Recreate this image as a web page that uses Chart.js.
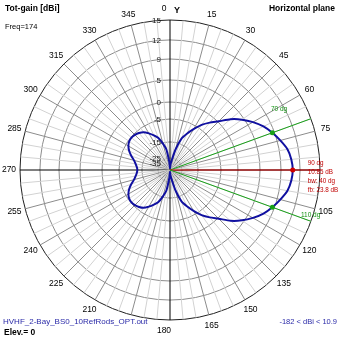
<!DOCTYPE html>
<html>
<head>
<meta charset="utf-8">
<script src="https://cdn.jsdelivr.net/npm/chart.js@4.4.1/dist/chart.umd.min.js"></script>
<style>
  html, body { margin: 0; padding: 0; background: #fff; }
  #wrap { position: relative; width: 339px; height: 339px; font-family: "Liberation Sans", Arial, sans-serif; }
  #wrap div { position: absolute; white-space: nowrap; line-height: 1; }
  .b { font-weight: bold; font-size: 8.5px; color: #000; }
</style>
</head>
<body>
<div id="wrap">
  <canvas id="polar" width="339" height="339"></canvas>
  <div class="b" style="left:5px;top:4px;">Tot-gain [dBi]</div>
  <div class="b" style="right:4px;top:4px;">Horizontal plane</div>
  <div style="left:5px;top:23px;font-size:7.5px;">Freq=174</div>
  <div style="left:3px;top:318px;font-size:8px;color:#2a2aa8;">HVHF_2-Bay_BS0_10RefRods_OPT.out</div>
  <div class="b" style="left:4px;top:328px;">Elev.= 0</div>
  <div style="right:2px;top:318px;font-size:7.5px;color:#2a2aa8;">-182 &lt; dBi &lt; 10.9</div>
</div>
<script>
// azimuth in degrees, 0 = Y axis, clockwise
const azimuths = [
  0, 5, 10, 15, 20, 25, 30, 35, 40, 45, 50, 55, 60, 65, 70, 75, 80, 85,
  90, 95, 100, 105, 110, 115, 120, 125, 130, 135, 140, 145, 150, 155, 160, 165, 170, 175,
  180, 185, 190, 195, 200, 205, 210, 215, 220, 225, 230, 235, 240, 245, 250, 255, 260, 265,
  270, 275, 280, 285, 290, 295, 300, 305, 310, 315, 320, 325, 330, 335, 340, 345, 350, 355
];

// total gain in dBi
const gainDb = [
  -53, -40, -29, -19.4, -12.8, -9.8, -6.7, -3.8, -1.8, 0.2, 2.5, 4.5, 6.1, 7.5, 8.6, 9.5, 10.3, 10.7,
  10.85, 10.7, 10.3, 9.5, 8.6, 7.5, 6.1, 4.5, 2.5, 0.2, -1.8, -3.8, -6.7, -9.8, -12.8, -19.4, -29, -40,
  -53, -33, -19.5, -15.5, -12.4, -10.6, -8.8, -7.1, -6.2, -5.6, -5.3, -5.5, -6.3, -7.6, -9.3, -11.0, -12.0, -12.7,
  -13.0, -12.7, -12.0, -11.0, -9.3, -7.6, -6.3, -5.5, -5.3, -5.6, -6.2, -7.1, -8.8, -10.6, -12.4, -15.5, -19.5, -33
];

// labelled gain rings
const ringDb = [-35, -25, -15, -5, 0, 5, 9, 12, 15];

// azimuth labels (90 and 195 are covered by other text in the original)
const compassLabels = [0, 15, 30, 45, 60, 75, 105, 120, 135, 150, 165, 180, 210, 225, 240, 255, 270, 285, 300, 315, 330, 345];

// beamwidth markers
const markerAngles = [70, 90, 110];
const markerColors = ['#18a018', '#d00000', '#18a018'];
const infoLines = ['90 dg', '10.85 dB', 'bw: 40 dg', 'fb: 23.8 dB'];

// radial scale of the plot: dB -> fraction of the outer radius
const scaleDb   = [-60, -35, -25, -15, -5, 0, 5, 9, 12, 15];
const scaleFrac = [0, 0.047, 0.08, 0.187, 0.34, 0.453, 0.6, 0.74, 0.867, 1];

function dbToR(db) {
  if (db <= scaleDb[0]) return 0;
  for (let i = 1; i < scaleDb.length; i++) {
    if (db <= scaleDb[i]) {
      const t = (db - scaleDb[i - 1]) / (scaleDb[i] - scaleDb[i - 1]);
      return scaleFrac[i - 1] + t * (scaleFrac[i] - scaleFrac[i - 1]);
    }
  }
  return 1;
}

const overlay = {
  id: 'overlay',
  beforeDatasetsDraw(chart) {
    const s = chart.scales.r;
    const ctx = chart.ctx;
    ctx.save();
    ctx.lineWidth = 1;
    markerAngles.forEach((a, k) => {
      const p = s.getPointPosition(azimuths.indexOf(a), s.drawingArea);
      ctx.strokeStyle = markerColors[k];
      ctx.beginPath();
      ctx.moveTo(s.xCenter, s.yCenter);
      ctx.lineTo(p.x, p.y);
      ctx.stroke();
    });
    ctx.restore();
  },
  afterDraw(chart) {
    const s = chart.scales.r;
    const ctx = chart.ctx;
    ctx.save();
    ctx.font = '8px "Liberation Sans", Arial, sans-serif';
    ctx.fillStyle = '#202020';
    ctx.textAlign = 'right';
    ctx.textBaseline = 'middle';
    ringDb.forEach(db => {
      const d = s.getDistanceFromCenterForValue(dbToR(db));
      ctx.fillText(String(db), s.xCenter - 9, s.yCenter - d + 1);
    });

    ctx.font = '8.5px "Liberation Sans", Arial, sans-serif';
    ctx.fillStyle = '#000';
    ctx.textAlign = 'center';
    compassLabels.forEach(a => {
      const p = s.getPointPosition(azimuths.indexOf(a), s.drawingArea + 11);
      let x = p.x;
      if (a === 0 || a === 180) x -= 6;
      ctx.fillText(String(a), x, p.y);
    });
    const top = s.getPointPosition(0, s.drawingArea + 9);
    ctx.font = 'bold 9px "Liberation Sans", Arial, sans-serif';
    ctx.fillText('Y', top.x + 7, top.y);

    // marker annotations
    const pMax = s.getPointPosition(azimuths.indexOf(90), s.getDistanceFromCenterForValue(dbToR(10.85)));
    ctx.font = '6.3px "Liberation Sans", Arial, sans-serif';
    ctx.fillStyle = '#c00000';
    ctx.textAlign = 'left';
    infoLines.forEach((t, i) => {
      ctx.fillText(t, pMax.x + 15, pMax.y - 7 + i * 9);
    });
    ctx.font = '6.5px "Liberation Sans", Arial, sans-serif';
    ctx.fillStyle = '#109010';
    const p70 = s.getPointPosition(azimuths.indexOf(70), s.drawingArea);
    const p110 = s.getPointPosition(azimuths.indexOf(110), s.drawingArea);
    ctx.fillText('70 dg', p70.x - 40, p70.y - 9);
    ctx.fillText('110 dg', p110.x - 10, p110.y - 6);
    ctx.restore();
  }
};

new Chart(document.getElementById('polar'), {
  type: 'radar',
  data: {
    labels: azimuths.map(String),
    datasets: [{
      data: gainDb.map(dbToR),
      borderColor: '#1010a0',
      borderWidth: 2,
      fill: false,
      tension: 0.2,
      pointRadius: c => markerAngles.includes(azimuths[c.dataIndex]) ? 2.5 : 0,
      pointBackgroundColor: c => markerColors[markerAngles.indexOf(azimuths[c.dataIndex])] || '#1010a0',
      pointBorderWidth: 0
    }]
  },
  options: {
    responsive: false,
    animation: false,
    layout: { padding: { left: 20, top: 20, right: 19, bottom: 19 } },
    plugins: { legend: { display: false }, tooltip: { enabled: false } },
    scales: {
      r: {
        min: 0,
        max: 1,
        startAngle: 0,
        afterBuildTicks: scale => {
          scale.ticks = [0].concat(ringDb.map(dbToR)).map(v => ({ value: v }));
        },
        ticks: { display: false },
        pointLabels: { display: false },
        grid: {
          circular: true,
          color: c => c.index === ringDb.length ? '#202020' : '#8c8c8c',
          lineWidth: 1
        },
        angleLines: {
          color: c => {
            const a = azimuths[c.index];
            if (a % 90 === 0) return '#000';
            if (a % 15 === 0) return '#8c8c8c';
            return '#d2d2d2';
          },
          lineWidth: 1
        }
      }
    }
  },
  plugins: [overlay]
});
</script>
</body>
</html>
